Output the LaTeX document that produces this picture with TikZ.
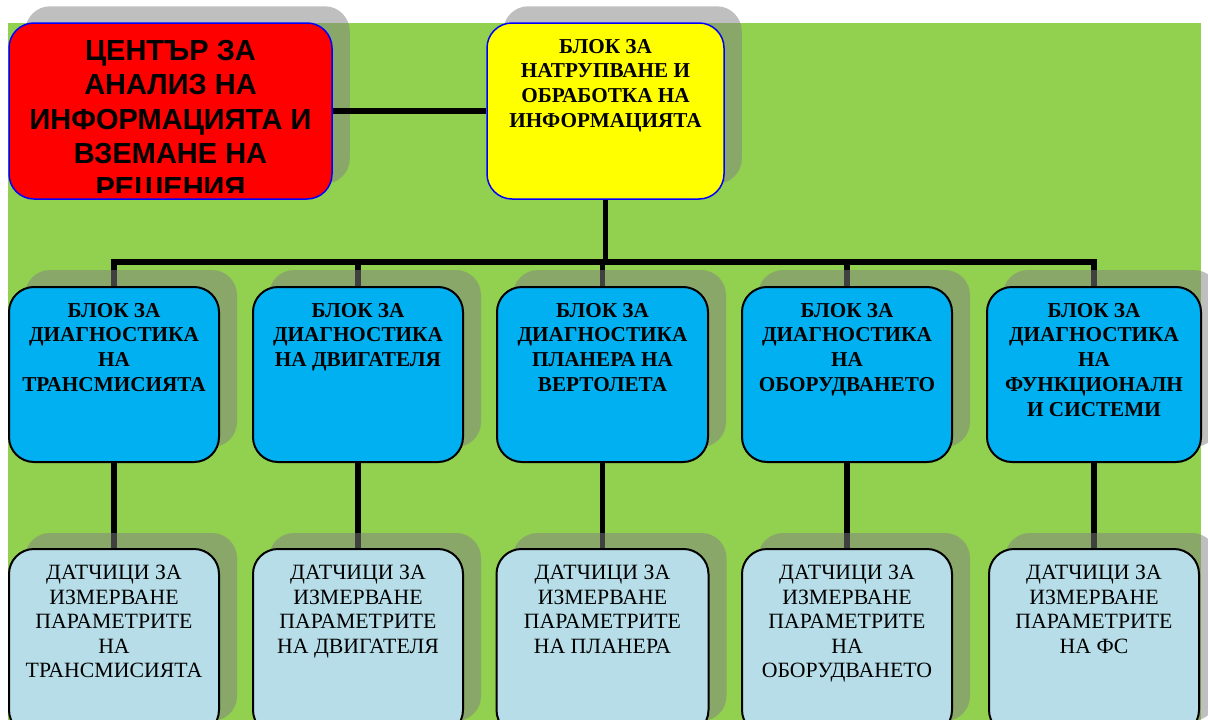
\documentclass[tikz,border=0pt]{standalone}
\usepackage{fontspec}
\setmainfont{Liberation Serif}
\newfontfamily\arialf{Liberation Sans}
\pgfdeclarelayer{bglayer}
\pgfdeclarelayer{linelayer}
\pgfdeclarelayer{shadowlayer}
\pgfsetlayers{bglayer,linelayer,shadowlayer,main}
\definecolor{bggreen}{RGB}{146,208,80}
\definecolor{boxblue}{RGB}{0,176,240}
\definecolor{lightbox}{RGB}{183,222,232}
\definecolor{redbox}{RGB}{255,0,0}
\definecolor{yelbox}{RGB}{255,255,0}
\definecolor{edgeblue}{RGB}{0,0,255}
\definecolor{shadowgray}{RGB}{128,128,128}
\tikzset{
  box/.style={rounded corners=25pt, inner sep=0pt, line width=2pt, draw=black},
  topbox/.style={box, draw=edgeblue, line width=1.5pt},
  diagbox/.style={box, fill=boxblue, minimum width=210pt, minimum height=175pt},
  sensbox/.style={box, fill=lightbox, minimum width=210pt, minimum height=186pt},
  conn/.style={line width=5.8pt, draw=black},
  shad/.style={fill=shadowgray, opacity=0.5, rounded corners=25pt},
  txtb/.style={inner sep=0pt, align=center, anchor=north, font=\bfseries\fontsize{21.2}{24.7}\selectfont},
  txtr/.style={inner sep=0pt, align=center, anchor=north, font=\fontsize{21.8}{24.5}\selectfont},
  txtred/.style={inner sep=0pt, align=center, anchor=north, font=\arialf\bfseries\fontsize{29}{34.3}\selectfont},
}
\newcommand{\shadowfor}[2]{%
  \begin{pgfonlayer}{shadowlayer}
    \fill[shad] ([shift={(17,#2)}]#1.south west) rectangle ([shift={(17,#2)}]#1.north east);
  \end{pgfonlayer}}
\begin{document}
\begin{tikzpicture}[x=1pt,y=-1pt]
\useasboundingbox (0,0) rectangle (1208,720);
\clip (0,0) rectangle (1208,720);
\begin{pgfonlayer}{bglayer}
  \fill[bggreen] (8,23) rectangle (1201,720);
\end{pgfonlayer}

% top row
\node[topbox, fill=redbox, minimum width=323pt, minimum height=176pt] (center) at (170.5,111) {};
\node[topbox, fill=yelbox, minimum width=237pt, minimum height=176pt] (accum) at (605.5,111) {};
\shadowfor{center}{-16}
\shadowfor{accum}{-16}
\begin{scope}
  \clip (9,23) rectangle (332,192);
  \node[txtred] (centert) at (170.5,40) {ЦЕНТЪР ЗА\\АНАЛИЗ НА\\ИНФОРМАЦИЯТА И\\ВЗЕМАНЕ НА\\РЕШЕНИЯ};
\end{scope}
\node[txtb] (accumt) at (605.5,39) {БЛОК ЗА\\НАТРУПВАНЕ И\\ОБРАБОТКА НА\\ИНФОРМАЦИЯТА};
\draw[conn] (center.east) -- (accum.west);

% diagnostic row
\node[diagbox] (d1) at (114,374.5) {};
\node[diagbox] (d2) at (358,374.5) {};
\node[diagbox, minimum width=211pt] (d3) at (602.5,374.5) {};
\node[diagbox] (d4) at (847,374.5) {};
\node[diagbox, minimum width=214pt] (d5) at (1094,374.5) {};
\foreach \n in {d1,d2,d3,d4,d5} {\shadowfor{\n}{-16}}
\node[txtb] (d1t) at (114,303) {БЛОК ЗА\\ДИАГНОСТИКА\\НА\\ТРАНСМИСИЯТА};
\node[txtb] (d2t) at (358,303) {БЛОК ЗА\\ДИАГНОСТИКА\\НА ДВИГАТЕЛЯ};
\node[txtb] (d3t) at (602.5,303) {БЛОК ЗА\\ДИАГНОСТИКА\\ПЛАНЕРА НА\\ВЕРТОЛЕТА};
\node[txtb] (d4t) at (847,303) {БЛОК ЗА\\ДИАГНОСТИКА\\НА\\ОБОРУДВАНЕТО};
\node[txtb] (d5t) at (1094,303) {БЛОК ЗА\\ДИАГНОСТИКА\\НА\\ФУНКЦИОНАЛН\\И СИСТЕМИ};

% sensor row
\node[sensbox] (s1) at (114,642) {};
\node[sensbox] (s2) at (358,642) {};
\node[sensbox, minimum width=212pt] (s3) at (602.5,642) {};
\node[sensbox] (s4) at (847,642) {};
\node[sensbox] (s5) at (1094,642) {};
\foreach \n in {s1,s2,s3,s4,s5} {\shadowfor{\n}{-15}}
\node[txtr] (s1t) at (114,565) {ДАТЧИЦИ ЗА\\ИЗМЕРВАНЕ\\ПАРАМЕТРИТЕ\\НА\\ТРАНСМИСИЯТА};
\node[txtr] (s2t) at (358,565) {ДАТЧИЦИ ЗА\\ИЗМЕРВАНЕ\\ПАРАМЕТРИТЕ\\НА ДВИГАТЕЛЯ};
\node[txtr] (s3t) at (602.5,565) {ДАТЧИЦИ ЗА\\ИЗМЕРВАНЕ\\ПАРАМЕТРИТЕ\\НА ПЛАНЕРА};
\node[txtr] (s4t) at (847,565) {ДАТЧИЦИ ЗА\\ИЗМЕРВАНЕ\\ПАРАМЕТРИТЕ\\НА\\ОБОРУДВАНЕТО};
\node[txtr] (s5t) at (1094,565) {ДАТЧИЦИ ЗА\\ИЗМЕРВАНЕ\\ПАРАМЕТРИТЕ\\НА ФС};

% connectors under the shadows
\coordinate (bus) at (0,262);
\begin{pgfonlayer}{linelayer}
  \draw[conn] (accum.south) -- (accum.south |- bus);
  \draw[conn, line cap=rect] (d1.north |- bus) -- (d5.north |- bus);
  \foreach \n in {d1,d2,d3,d4,d5} {\draw[conn] (\n.north) -- (\n.north |- bus);}
  \draw[conn] (d1.south) -- (s1.north);
  \draw[conn] (d2.south) -- (s2.north);
  \draw[conn] (d3.south) -- (s3.north);
  \draw[conn] (d4.south) -- (s4.north);
  \draw[conn] (d5.south) -- (s5.north);
\end{pgfonlayer}
\end{tikzpicture}
\end{document}
